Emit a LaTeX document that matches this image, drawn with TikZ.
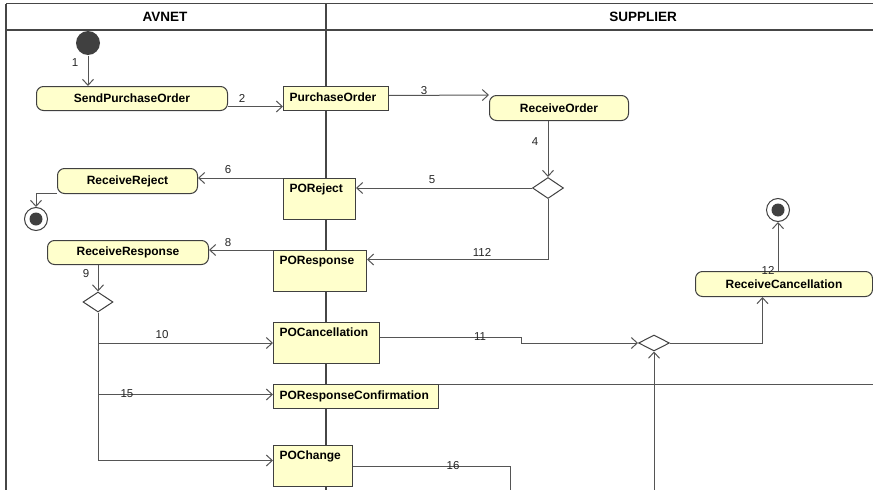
\documentclass[tikz,border=0pt]{standalone}
\usepackage{fontspec}
\setmainfont{Liberation Sans}
\usetikzlibrary{arrows.meta}
\usetikzlibrary{shapes.geometric}
\usetikzlibrary{calc}
\definecolor{boxfill}{RGB}{255,255,204}
\definecolor{edge}{RGB}{64,64,64}
\definecolor{wire}{RGB}{85,85,85}
\definecolor{lane}{RGB}{70,70,70}

\tikzset{
  boxfont/.style={font=\fontsize{12}{13}\selectfont\bfseries},
  action/.style={draw=edge, fill=boxfill, rounded corners=7pt, anchor=north west,
    minimum height=24pt, inner sep=0pt, boxfont},
  object/.style={draw=edge, fill=boxfill, anchor=north west, inner xsep=6pt,
    inner ysep=3pt, align=left, boxfont},
  tallobj/.style={object, text height=11pt, text depth=24pt},
  flatobj/.style={object, text height=12pt, text depth=6pt},
  decision/.style={diamond, draw=edge, fill=white, inner sep=0pt},
  finalnode/.style={circle, draw=edge, fill=white, minimum size=23pt, inner sep=0pt,
    path picture={\fill[edge] (path picture bounding box.center) circle (6.5pt);}},
  flow/.style={draw=wire, -{Straight Barb[length=6pt,width=11pt]}},
  wire/.style={draw=wire},
  num/.style={font=\fontsize{11.5}{12}\selectfont, text=black!85, inner sep=0pt},
}

\begin{document}
\begin{tikzpicture}[x=1pt, y=-1pt, line width=1pt]
    \useasboundingbox (0,0) rectangle (873,490);

    % swimlanes
    \draw[lane, line width=1.6pt] (6,3.5) -- (873,3.5);
    \draw[lane, line width=1.6pt] (6,30) -- (873,30);
    \draw[lane, line width=1.6pt] (6,3.5) -- (6,490);
    \draw[lane, line width=2.4pt] (326,3.5) -- (326,490);
    \node[font=\fontsize{13.5}{14}\selectfont\bfseries] (avnet) at (165,17) {AVNET};
    \node[font=\fontsize{13.5}{14}\selectfont\bfseries] (supplier) at (643,17) {SUPPLIER};

    % start / end
    \node[circle, fill=edge, minimum size=24pt, inner sep=0pt] (start) at (88,43) {};
    \node[finalnode] (fin1) at (36,219) {};
    \node[finalnode] (fin2) at (778,210) {};

    % actions
    \node[action, minimum width=191pt] (spo) at (36,86) {SendPurchaseOrder};
    \node[action, minimum width=139pt, minimum height=25pt] (ro) at (489,95) {ReceiveOrder};
    \node[action, minimum width=140pt, minimum height=25pt] (rrej) at (57,168) {ReceiveReject};
    \node[action, minimum width=161pt] (rresp) at (47,240) {ReceiveResponse};
    \node[action, minimum width=177pt, minimum height=25pt] (rcanc) at (695,271) {ReceiveCancellation};

    % object flows
    \node[flatobj, text width=93pt] (po) at (283,86) {PurchaseOrder};
    \node[tallobj, text width=60pt] (prej) at (283,178) {POReject};
    \node[tallobj, text width=81pt] (presp) at (273,250) {POResponse};
    \node[tallobj, text width=94pt] (pcanc) at (273,322) {POCancellation};
    \node[flatobj, text width=153pt] (pconf) at (273,384) {POResponseConfirmation};
    \node[tallobj, text width=67pt] (pchg) at (273,445) {POChange};

    % decisions
    \node[decision, minimum width=31pt, minimum height=21pt] (dec1) at (548,188) {};
    \node[decision, minimum width=30pt, minimum height=20pt] (dec2) at (98,302) {};
    \node[decision, minimum width=31pt, minimum height=16pt] (dec3) at (654,343) {};

    \coordinate (bottomin) at (654,490);
    \coordinate (confout) at (873,384);
    \coordinate (chgout) at (510,490);

    % edges
    \draw[flow] (start) -- (spo.north -| start);
    \draw[flow] ([yshift=-8pt]spo.east) -- ([yshift=-8pt]po.west);
    \draw[flow] ([yshift=3pt]po.east) -- (ro.north west);
    \draw[flow] (dec1.north |- ro.south) -- (dec1.north);
    \draw[flow] (dec1.west) -- (dec1.west -| prej.east);
    \draw[flow] (prej.north west) -- (prej.north west -| rrej.east);
    \draw[flow] ([yshift=1pt]rrej.south west) -| (fin1.north);
    \draw[flow] (presp.north west) -- (presp.north west -| rresp.east);
    \draw[flow] (dec1.south) |- ([yshift=11.5pt]presp.east);
    \draw[flow] (dec2.north |- rresp.south) -- (dec2.north);
    \draw[flow] (dec2.south) |- (pcanc.west);
    \draw[flow] (dec2.south) |- ([yshift=2pt]pconf.west);
    \draw[flow] (dec2.south) |- ([yshift=5.5pt]pchg.west);
    \draw[flow] ([yshift=5.5pt]pcanc.east) -- ++(141pt,0) |- (dec3.west);
    \draw[flow] (dec3.east) -| ([xshift=-21.5pt]rcanc.south);
    \draw[flow] (fin2.south |- rcanc.north) -- (fin2.south);
    \draw[flow] (bottomin) -- (dec3.south);
    \draw[wire] (pconf.north east) -- (confout);
    \draw[wire] (pchg.east) -| (chgout);

    % edge numbers
    \node[num] (n1) at (75,63) {1};
    \node[num] (n2) at (242,98) {2};
    \node[num] (n3) at (424,91) {3};
    \node[num] (n4) at (535,142) {4};
    \node[num] (n5) at (432,180) {5};
    \node[num] (n6) at (228,170) {6};
    \node[num] (n8) at (228,243) {8};
    \node[num] (n112) at (482,252) {112};
    \node[num] (n9) at (86,274) {9};
    \node[num] (n10) at (162,335) {10};
    \node[num] (n15) at (127,394) {15};
    \node[num] (n11) at (480,337) {11};
    \node[num] (n12) at (768,270) {12};
    \node[num] (n16) at (453,466) {16};
\end{tikzpicture}
\end{document}
